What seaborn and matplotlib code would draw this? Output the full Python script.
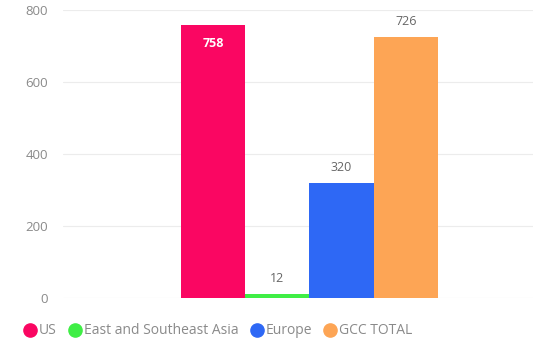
import matplotlib
matplotlib.use("Agg")
import matplotlib.pyplot as plt
from matplotlib.lines import Line2D
import seaborn as sns
import pandas as pd

series = ["US", "East and Southeast Asia", "Europe", "GCC TOTAL"]
values = [758, 12, 320, 726]
colors = ["#FA0662", "#3FEE45", "#2E68F5", "#FDA555"]
yticks = [0, 200, 400, 600, 800]

sns.set_theme(style="white")
plt.rcParams['font.family'] = ['Open Sans', 'DejaVu Sans']

df = pd.DataFrame({"cat": ["all"] * len(series), "series": series, "value": values})

fig = plt.figure(figsize=(5.33, 3.40), dpi=100)
ax = fig.add_axes([63/533, 1 - 298/340, 470/533, 288/340])
sns.barplot(data=df, x="cat", y="value", hue="series", hue_order=series,
            palette=colors, width=0.8, ax=ax, legend=False, saturation=1,
            linewidth=0)
ax.set_xlim(-0.767, 0.696)
ax.set_ylim(0, 800)
ax.set_yticks(yticks)
ax.set_yticklabels([str(t) for t in yticks], color="#8a8a8a", fontsize=9.5)
ax.tick_params(axis="y", length=0, pad=11)
ax.set_xticks([])
ax.set_xlabel("")
ax.set_ylabel("")
ax.grid(axis="y", color="#ececec", linewidth=0.8)
ax.set_axisbelow(True)
for s in ax.spines.values():
    s.set_visible(False)

for i, (cont, v) in enumerate(zip(ax.containers, values)):
    bar = cont.patches[0]
    cx = bar.get_x() + bar.get_width() / 2
    if i == 0:
        ax.annotate(str(v), (cx, v), xytext=(0, -13), textcoords="offset points",
                    ha="center", va="center", color="white", fontsize=9, fontweight="bold")
    else:
        ax.annotate(str(v), (cx, v), xytext=(0, 11), textcoords="offset points",
                    ha="center", va="center", color="#666666", fontsize=9)

handles = [Line2D([0], [0], marker="o", linestyle="", markersize=9.5,
                  markerfacecolor=c, markeredgecolor=c) for c in colors]
fig.legend(handles, series, loc="center left", bbox_to_anchor=(22/533, 1 - 331/340),
           ncol=4, frameon=False, fontsize=10, handletextpad=0.0, columnspacing=0.75,
           labelcolor="#8a8a8a", borderaxespad=0, borderpad=0, handlelength=1.2)

fig.savefig("out.png", dpi=100)
